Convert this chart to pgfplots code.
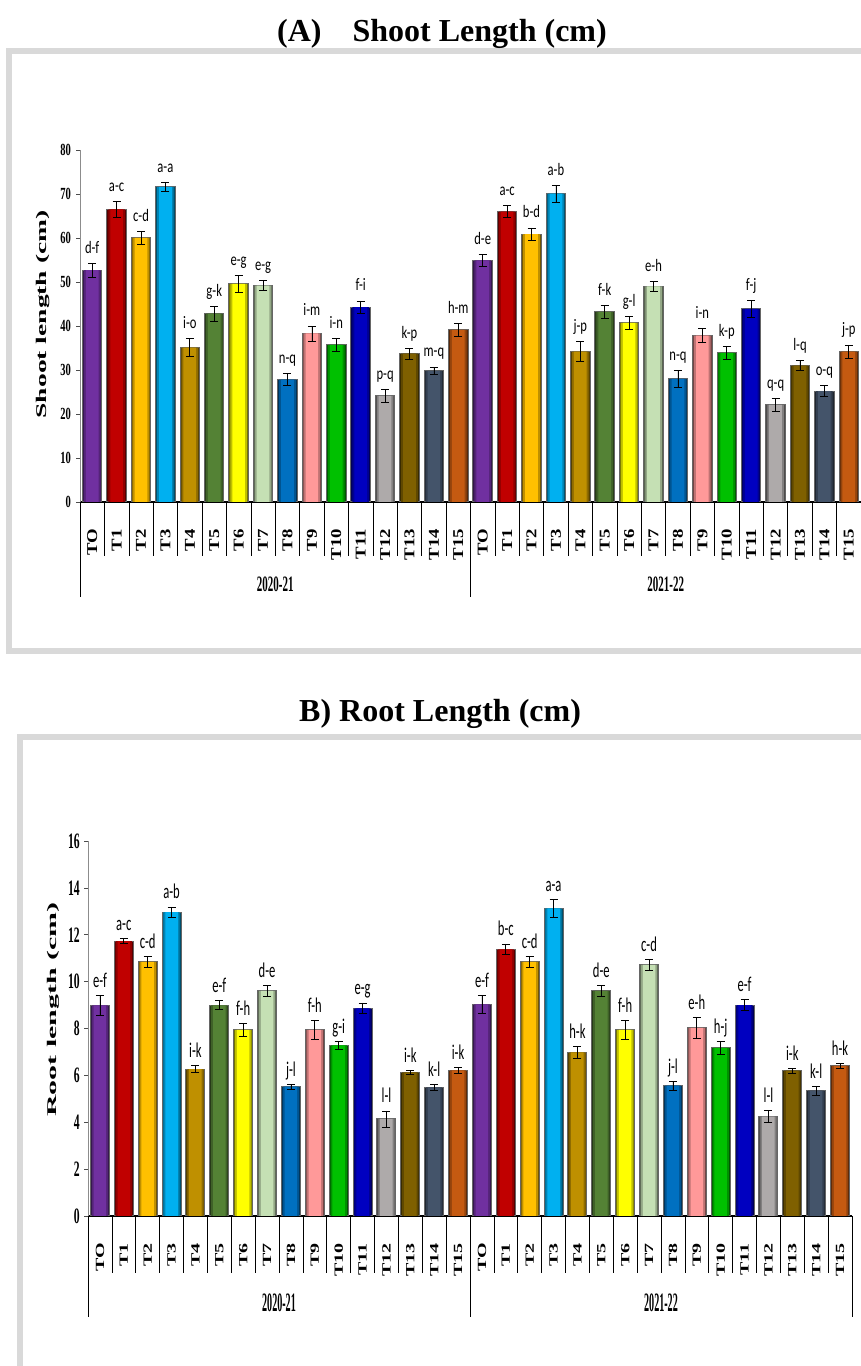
\documentclass[border=0pt]{standalone}
\usepackage{fontspec}
\usepackage{pgfplots}
\usepackage{pgfplotstable}
\pgfplotsset{compat=1.18}

\setmainfont{Liberation Serif}
\newfontfamily\titlefont{Liberation Serif}
\newfontfamily\catAfont{Liberation Serif}[FakeStretch=1.25]
\newfontfamily\catBfont{Liberation Serif}[FakeStretch=1.6]
\newfontfamily\ytAfont{Liberation Serif}[FakeStretch=0.62]
\newfontfamily\ytBfont{Liberation Serif}[FakeStretch=0.53]
\newfontfamily\grpAfont{Liberation Serif}[FakeStretch=0.5]
\newfontfamily\grpBfont{Liberation Serif}[FakeStretch=0.38]
\newfontfamily\ylAfont{Liberation Serif}[FakeStretch=1.86]
\newfontfamily\ylBfont{Liberation Serif}[FakeStretch=2.25]
\newfontfamily\labAfont{Carlito}[FakeStretch=0.72]
\newfontfamily\labBfont{Carlito}[FakeStretch=0.6]

% treatment colours
\definecolor{t0}{HTML}{7030A0}
\definecolor{t1}{HTML}{C00000}
\definecolor{t2}{HTML}{FFC000}
\definecolor{t3}{HTML}{00B0F0}
\definecolor{t4}{HTML}{BF9000}
\definecolor{t5}{HTML}{548235}
\definecolor{t6}{HTML}{FFFF00}
\definecolor{t7}{HTML}{C5E0B4}
\definecolor{t8}{HTML}{0070C0}
\definecolor{t9}{HTML}{FF9999}
\definecolor{t10}{HTML}{00C000}
\definecolor{t11}{HTML}{0000C0}
\definecolor{t12}{HTML}{AEAAAA}
\definecolor{t13}{HTML}{7F6000}
\definecolor{t14}{HTML}{44546A}
\definecolor{t15}{HTML}{C55A11}
\definecolor{framegray}{HTML}{D9D9D9}

\def\trts{TO,T1,T2,T3,T4,T5,T6,T7,T8,T9,T10,T11,T12,T13,T14,T15}

% shoot length: x = treatment position (0-15: 2020-21, 16-31: 2021-22)
\pgfplotstableread{
x v e lab
0 52.7 1.6 d-f
1 66.5 1.8 a-c
2 60.0 1.4 c-d
3 71.6 1.1 a-a
4 35.1 2.0 i-o
5 42.8 1.7 g-k
6 49.6 1.9 e-g
7 49.2 1.2 e-g
8 27.8 1.4 n-q
9 38.3 1.7 i-m
10 35.7 1.4 i-n
11 44.3 1.4 f-i
12 24.1 1.5 p-q
13 33.7 1.2 k-p
14 29.8 0.9 m-q
15 39.1 1.4 h-m
16 54.9 1.3 d-e
17 66.0 1.4 a-c
18 60.9 1.4 b-d
19 70.1 1.9 a-b
20 34.2 2.2 j-p
21 43.2 1.4 f-k
22 40.7 1.4 g-l
23 49.0 1.2 e-h
24 28.0 1.9 n-q
25 37.8 1.6 i-n
26 33.9 1.4 k-p
27 43.9 2.0 f-j
28 22.1 1.4 q-q
29 31.0 1.1 l-q
30 25.2 1.2 o-q
31 34.2 1.5 j-p
}\shootdata

% root length
\pgfplotstableread{
x v e lab
0 8.99 0.43 e-f
1 11.73 0.10 a-c
2 10.84 0.23 c-d
3 12.96 0.23 a-b
4 6.27 0.14 i-k
5 8.99 0.19 e-f
6 7.94 0.27 f-h
7 9.60 0.23 d-e
8 5.52 0.11 j-l
9 7.94 0.41 f-h
10 7.28 0.18 g-i
11 8.86 0.23 e-g
12 4.14 0.34 l-l
13 6.13 0.09 i-k
14 5.49 0.14 k-l
15 6.21 0.13 i-k
16 9.03 0.37 e-f
17 11.38 0.23 b-c
18 10.84 0.23 c-d
19 13.13 0.39 a-a
20 6.98 0.27 h-k
21 9.60 0.23 d-e
22 7.94 0.40 f-h
23 10.71 0.22 c-d
24 5.56 0.18 j-l
25 8.03 0.43 e-h
26 7.17 0.28 h-j
27 9.00 0.24 e-f
28 4.24 0.26 l-l
29 6.20 0.10 i-k
30 5.35 0.19 k-l
31 6.41 0.11 h-k
}\rootdata

\pgfplotsset{
  panel/.style={
    scale only axis, anchor=south west, clip=false,
    xmin=-0.5, xmax=31.5, ymin=0,
    axis x line*=bottom, axis y line*=left,
    x axis line style={black, line width=1.5pt},
    y axis line style={black!45, line width=0.6pt},
    tick align=outside, major tick length=4pt,
    ytick style={black!70, line width=0.6pt},
    xtick={0,...,31}, xtick style={draw=none},
    xticklabels/.expanded={\trts,\trts},
    xticklabel style={rotate=90, anchor=east, inner sep=0pt},
    xticklabel shift=23pt,
    yticklabel style={inner sep=0pt},
    /pgf/number format/assume math mode=true,
  },
  % three stacked layers give each bar dark rounded-looking edges
  edge/.style={ybar, bar width=0.8, bar shift=0pt,
    fill=t#1!45!black, draw=black!60, line width=1pt,
    x filter/.expression={mod(x,16)==#1 ? x : nan}},
  rim/.style={ybar, bar width=0.68, bar shift=0pt,
    fill=t#1!75!black, draw=none,
    x filter/.expression={mod(x,16)==#1 ? x : nan}},
  core/.style={ybar, bar width=0.52, bar shift=0pt,
    fill=t#1, draw=none,
    x filter/.expression={mod(x,16)==#1 ? x : nan},
    error bars/.cd, y dir=both, y explicit,
    error bar style={black, line width=0.7pt},
    error mark options={rotate=90, mark size=4pt, black, line width=0.7pt}},
}

\begin{document}
\begin{tikzpicture}
\path[use as bounding box] (0,0) rectangle (861pt,1366pt);

% panel frames
\draw[framegray, line width=6pt] (9pt,715pt) rectangle (868pt,1315pt);
\draw[framegray, line width=6pt] (20pt,-10pt) rectangle (864pt,629pt);

% panel titles
\node[anchor=base west, inner sep=0pt,
  font=\titlefont\bfseries\fontsize{32}{36}\selectfont]
  at (277pt,1324pt) {(A)\hspace{31pt}Shoot Length (cm)};
\node[anchor=base west, inner sep=0pt,
  font=\titlefont\bfseries\fontsize{32}{36}\selectfont]
  at (299pt,644pt) {B) Root Length (cm)};

% (A) shoot length
\begin{axis}[panel,
  at={(80pt,864pt)}, width=781pt, height=352pt,
  ymax=80, ytick={0,10,...,80},
  xticklabel style={font=\catAfont\bfseries\fontsize{15}{16}\selectfont},
  yticklabel style={font=\ytAfont\bfseries\fontsize{17}{18}\selectfont},
  yticklabel shift=5pt,
]
\pgfplotsinvokeforeach{0,...,15}{
  \addplot[edge=#1] table[x=x, y=v] {\shootdata};
  \addplot[rim=#1] table[x=x, y=v] {\shootdata};
  \addplot[core=#1] table[x=x, y=v, y error=e] {\shootdata};
}
\addplot[draw=none, nodes near coords, point meta=explicit symbolic,
  every node near coord/.append style={
    font=\labAfont\fontsize{17.5}{18}\selectfont,
    anchor=base, yshift=10pt, inner sep=0pt}]
  table[x=x, y expr=\thisrow{v}+\thisrow{e}, meta=lab] {\shootdata};
\pgfplotsinvokeforeach{-0.5,0.5,...,31.5}{
  \draw[black, line width=0.6pt] (axis cs:#1,0) -- ++(0pt,-54pt);
}
\draw[black, line width=0.6pt] (axis cs:-0.5,0) -- ++(0pt,-95pt);
\draw[black, line width=0.6pt] (axis cs:15.5,0) -- ++(0pt,-95pt);
\draw[black, line width=0.6pt] (axis cs:31.5,0) -- ++(0pt,-95pt);
\node[font=\grpAfont\bfseries\fontsize{22}{24}\selectfont, yshift=-82pt]
  at (axis cs:7.5,0) {2020-21};
\node[font=\grpAfont\bfseries\fontsize{22}{24}\selectfont, yshift=-82pt]
  at (axis cs:23.5,0) {2021-22};
\node[font=\ylAfont\bfseries\fontsize{14.8}{16}\selectfont,
  xshift=-37pt, rotate=90] at (axis description cs:0,0.533)
  {Shoot length (cm)};
\end{axis}

% (B) root length
\begin{axis}[panel,
  at={(88pt,150pt)}, width=764pt, height=375pt,
  ymax=16, ytick={0,2,...,16},
  xticklabel style={font=\catBfont\bfseries\fontsize{12.5}{14}\selectfont},
  yticklabel style={font=\ytBfont\bfseries\fontsize{22}{24}\selectfont},
  yticklabel shift=4pt,
]
\pgfplotsinvokeforeach{0,...,15}{
  \addplot[edge=#1] table[x=x, y=v] {\rootdata};
  \addplot[rim=#1] table[x=x, y=v] {\rootdata};
  \addplot[core=#1] table[x=x, y=v, y error=e] {\rootdata};
}
\addplot[draw=none, nodes near coords, point meta=explicit symbolic,
  every node near coord/.append style={
    font=\labBfont\fontsize{21}{22}\selectfont,
    anchor=base, yshift=8pt, inner sep=0pt}]
  table[x=x, y expr=\thisrow{v}+\thisrow{e}, meta=lab] {\rootdata};
\pgfplotsinvokeforeach{-0.5,0.5,...,31.5}{
  \draw[black, line width=0.6pt] (axis cs:#1,0) -- ++(0pt,-57pt);
}
\draw[black, line width=0.6pt] (axis cs:-0.5,0) -- ++(0pt,-101pt);
\draw[black, line width=0.6pt] (axis cs:15.5,0) -- ++(0pt,-101pt);
\draw[black, line width=0.6pt] (axis cs:31.5,0) -- ++(0pt,-101pt);
\node[font=\grpBfont\bfseries\fontsize{26.6}{28}\selectfont, yshift=-87pt]
  at (axis cs:7.5,0) {2020-21};
\node[font=\grpBfont\bfseries\fontsize{26.6}{28}\selectfont, yshift=-87pt]
  at (axis cs:23.5,0) {2021-22};
\node[font=\ylBfont\bfseries\fontsize{13.3}{15}\selectfont,
  xshift=-35pt, rotate=90] at (axis description cs:0,0.55)
  {Root length (cm)};
\end{axis}
\end{tikzpicture}
\end{document}
